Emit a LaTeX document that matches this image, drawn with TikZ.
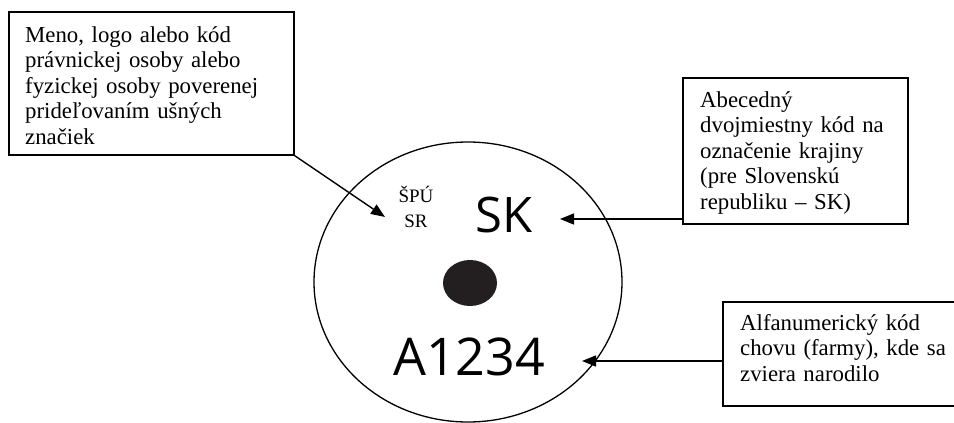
\documentclass[tikz,border=0pt]{standalone}
\usepackage{fontspec}
\setmainfont{Liberation Serif}
\newfontfamily\tagfont{Open Sans}
\usetikzlibrary{shapes.geometric,arrows.meta}
\tikzset{
  box/.style={draw, line width=1.6pt, inner sep=0pt, anchor=north west},
  desc/.style={font=\fontsize{22.8}{25.5}\selectfont, text width=#1, align=left, inner sep=0pt, anchor=base west},
  arr/.style={-{Triangle[length=14pt,width=11pt]}, line width=1.4pt},
}
\begin{document}
\begin{tikzpicture}[x=1pt,y=-1pt]
\useasboundingbox (0,0) rectangle (954,423);
\clip (0,0) rectangle (954,423);
\fill[white] (0,0) rectangle (954,423);
% ear tag
\node[draw, ellipse, line width=1.3pt, inner sep=0pt, minimum width=308pt, minimum height=280pt] (tag) at (468,282) {};
\node[ellipse, fill={rgb,255:red,35;green,31;blue,32}, inner sep=0pt, minimum width=54pt, minimum height=46pt] (hole) at (470,283) {};
\node[font=\fontsize{19}{25}\selectfont, text width=60pt, align=center, inner sep=0pt, anchor=base] (spu) at (416,202) {ŠPÚ\\SR};
\node[font=\tagfont\fontsize{49}{55}\selectfont, inner sep=0pt, anchor=base west] (sk) at (475,232) {SK};
\node[font=\tagfont\fontsize{52}{60}\selectfont, inner sep=0pt, anchor=base west] (code) at (393,375) {A1234};
% boxes
\node[box, minimum width=285pt, minimum height=143pt] (b1) at (8,11) {};
\node[desc=265pt] (t1) at (25,42) {Meno, logo alebo kód\\právnickej osoby alebo\\fyzickej osoby poverenej\\prideľovaním ušných\\značiek};
\node[box, minimum width=225pt, minimum height=146pt] (b2) at (682,77) {};
\node[desc=205pt] (t2) at (700,107) {Abecedný\\dvojmiestny kód na\\označenie krajiny\\(pre Slovenskú\\republiku – SK)};
\node[box, minimum width=260pt, minimum height=104pt] (b3) at (722,301) {};
\node[desc=210pt] (t3) at (740,330) {Alfanumerický kód\\chovu (farmy), kde sa\\zviera narodilo};
% connectors
\coordinate (tip1) at (385,217);
\coordinate (tip2) at (560,219);
\coordinate (tip3) at (582,361);
\draw[arr] (b1.south east) -- (tip1);
\draw[arr] (b2.west |- tip2) -- (tip2);
\draw[arr] (b3.west |- tip3) -- (tip3);
\end{tikzpicture}
\end{document}
